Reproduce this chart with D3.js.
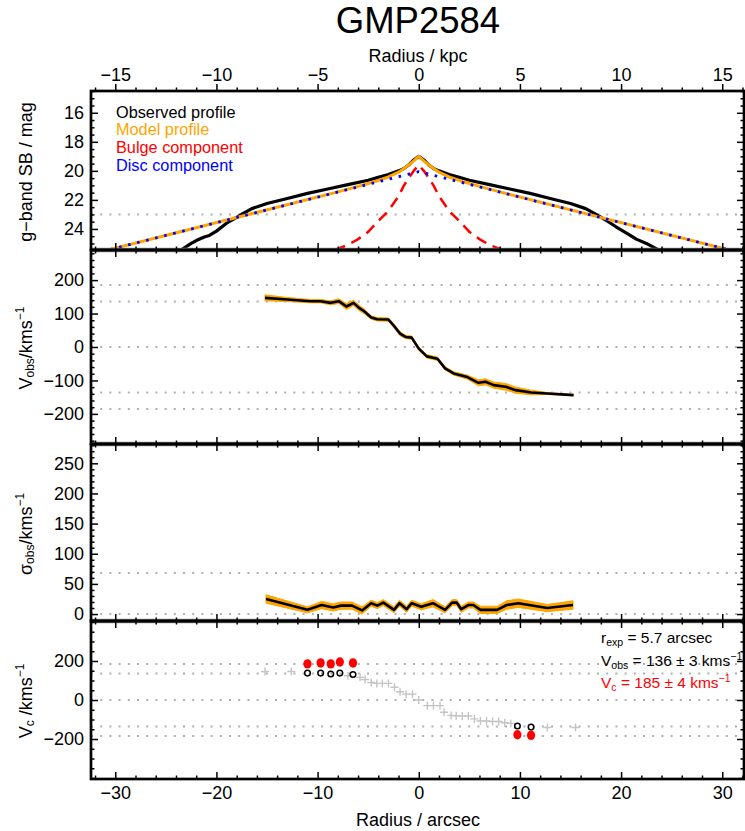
<!DOCTYPE html>
<html>
<head>
<meta charset="utf-8">
<title>GMP2584</title>
<script src="https://cdn.jsdelivr.net/npm/d3@7"></script>
<style>
  html, body { margin: 0; padding: 0; background: #fff; }
  svg { display: block; }
  text { font-family: "Liberation Sans", Arial, Helvetica, sans-serif; fill: #000; }
</style>
</head>
<body>
<svg id="chart" width="745" height="831"></svg>
<script>
// ---------------- data ----------------
const galaxyName = "GMP2584";
const kpcPerArcsec = 0.5;

// g-band surface-brightness profile (radius in arcsec, mag/arcsec^2)
const obsR   = [-23.5,-22.5,-22,-21.2,-20.7,-20,-19,-18,-17.4,-16.5,-15,-13,-11,-9,-7,-5,-4,-3,-2,-1.5,-1,-0.5,0,
                0.5,1,1.5,2,3,4,5,7,9,11,13,15,16.5,17.4,18.5,19.5,20.7,21.5,22.5,23.7];
const obsMag = [25.45,25.0,24.8,24.55,24.45,24.15,23.6,23.2,22.95,22.6,22.25,21.9,21.55,21.25,20.95,20.65,20.45,20.25,20.0,19.85,19.6,19.25,19.0,
                19.25,19.6,19.85,20.0,20.25,20.45,20.65,20.95,21.25,21.55,21.9,22.25,22.6,22.95,23.4,23.85,24.35,24.7,25.0,25.45];
const modelR   = [-32.3,-8,-6,-5,-4,-3,-2,-1.5,-1,-0.5,0,0.5,1,1.5,2,3,4,5,6,8,32.3];
const modelMag = [25.73,21.45,21.07,20.87,20.66,20.42,20.09,19.85,19.6,19.31,19.0,19.31,19.6,19.85,20.09,20.42,20.66,20.87,21.07,21.45,25.73];
const bulgeR   = [-8.3,-7,-6,-5,-4,-3,-2,-1.5,-1,-0.5,0,0.5,1,1.5,2,3,4,5,6,7,8.3];
const bulgeMag = [25.45,25.1,24.7,24.2,23.45,22.75,21.75,21.05,20.5,20.0,19.6,20.0,20.5,21.05,21.75,22.75,23.45,24.2,24.7,25.1,25.45];
const discR    = [-32.3,0,32.3];
const discMag  = [25.73,20.05,25.73];
const sbRef    = [23.0];

// observed rotation velocity (km/s) with uncertainty
const velR   = [-15.2,-13.0,-10.7,-9.7,-8.7,-7.9,-7.15,-6.45,-5.9,-5.4,-4.7,-4.1,-3.0,-2.5,-1.85,-1.3,-0.7,0.0,0.8,1.85,2.6,3.45,4.8,5.9,6.6,7.4,8.6,9.6,11.1,12.7,15.3];
const velV   = [147,142,137,137,132,137,121,132,117,107,88,83,82,65,40,30,28,-5,-28,-35,-64,-79,-90,-107,-104,-114,-119,-129,-136,-139,-144];
const velErr = [9,6,5,5,6,7,9,8,8,7,5,5,5,6,6,5,5,5,5,5,5,5,6,9,9,9,10,9,7,3,2];
const velRef = [185,136,0,-136,-185];

// observed velocity dispersion (km/s) with uncertainty
const sigR   = [-15.1,-11.0,-9.6,-8.45,-7.7,-6.6,-5.6,-4.7,-4.1,-3.5,-2.45,-1.9,-1.2,-0.7,0.25,1.4,2.6,3.3,3.75,4.2,4.9,5.4,6.1,7.75,8.7,9.85,12.7,15.25];
const sigV   = [25,7,15,11,14,14,6,18,14,19,7,18,8,18,12,18,7,19,19,8,15,15,7,7,15,18,10,15];
const sigErr = [7,5,6,6,6,6,6,5,5,5,5,5,5,5,5,6,5,5,5,5,5,5,6,6,7,7,6,7];
const sigRef = [68,0];

// circular-velocity panel
const ptsR  = [-15.2,-12.6,-7.0,-5.8,-5.3,-4.7,-4.15,-3.6,-3.0,-2.4,-1.85,-1.25,-0.62,0,0.85,1.45,2.1,2.5,3.2,3.7,4.3,4.9,5.5,6.1,6.7,7.3,7.9,8.5,9.1,12.7,15.5];
const ptsV  = [146,146,124,116,105,90,85,85,85,65,42,30,30,0,-29,-29,-29,-63,-79,-81,-82,-82,-97,-108,-108,-110,-110,-117,-120,-141,-141];
const sampR = [-11.0,-9.7,-8.7,-7.8,-6.5,9.75,11.1];
const vobsV = [138,138,133,138,131,-133,-139];
const vcV   = [185,190,185,195,190,-178,-181];
const vcRef = [185,136,0,-136,-185];

// tick values
const arcsecTicks = [-30,-20,-10,0,10,20,30];
const kpcTicks    = [-15,-10,-5,0,5,10,15];
const sbTicks     = [16,18,20,22,24];
const velTicks    = [-200,-100,0,100,200];
const sigTicks    = [0,50,100,150,200,250];
const vcTicks     = [-200,0,200];

const legendItems  = ["Observed profile","Model profile","Bulge component","Disc component"];
const legendColors = ["#000000","#FFA500","#FF0000","#0000FF"];

// ---------------- layout ----------------
const L = 91, R = 744;
const FONT = "Liberation Sans, Arial, Helvetica, sans-serif";
const svg = d3.select("#chart");

const arcsecDomain = [-32.4, 32.15];
const x = d3.scaleLinear().domain(arcsecDomain).range([L, R]);
const xKpc = d3.scaleLinear().domain(arcsecDomain.map(d => d * kpcPerArcsec)).range([L, R]);

const panels = [
  { top: 91,  bottom: 250, y: d3.scaleLinear().domain([25.45, 14.5]).range([250, 91]), ticks: sbTicks,  minor: 0.5, refs: sbRef },
  { top: 250, bottom: 444, y: d3.scaleLinear().domain([-290, 290]).range([444, 250]), ticks: velTicks, minor: 20,  refs: velRef },
  { top: 444, bottom: 621, y: d3.scaleLinear().domain([-11.5, 282]).range([621, 444]), ticks: sigTicks, minor: 10,  refs: sigRef },
  { top: 621, bottom: 779, y: d3.scaleLinear().domain([-405, 405]).range([779, 621]), ticks: vcTicks,  minor: 50,  refs: vcRef }
];

const defs = svg.append("defs");
panels.forEach((p, i) => {
  defs.append("clipPath").attr("id", "clip" + i)
    .append("rect").attr("x", L).attr("y", p.top).attr("width", R - L).attr("height", p.bottom - p.top);
});

// dotted reference lines
panels.forEach((p, i) => {
  svg.append("g").attr("clip-path", `url(#clip${i})`)
    .selectAll("line").data(p.refs).join("line")
    .attr("x1", L).attr("x2", R)
    .attr("y1", d => p.y(d)).attr("y2", d => p.y(d))
    .attr("stroke", "#b0b0b0").attr("stroke-width", 2)
    .attr("stroke-dasharray", "2,7.2");
});

const zip = (a, b) => a.map((v, k) => [v, b[k]]);

// ---- panel 1: surface brightness ----
{
  const p = panels[0];
  const g = svg.append("g").attr("clip-path", "url(#clip0)");
  const line = d3.line().x(d => x(d[0])).y(d => p.y(d[1]));
  g.append("path").attr("d", line(zip(obsR, obsMag)))
    .attr("fill", "none").attr("stroke", "#000").attr("stroke-width", 3.2).attr("stroke-linejoin", "round");
  g.append("path").attr("d", line(zip(modelR, modelMag)))
    .attr("fill", "none").attr("stroke", "#FFA500").attr("stroke-width", 3).attr("stroke-linejoin", "round");
  g.append("path").attr("d", line(zip(bulgeR, bulgeMag)))
    .attr("fill", "none").attr("stroke", "#FF0000").attr("stroke-width", 2.5).attr("stroke-dasharray", "11,7");
  g.append("path").attr("d", line(zip(discR, discMag)))
    .attr("fill", "none").attr("stroke", "#0000FF").attr("stroke-width", 2.8).attr("stroke-dasharray", "2.6,6.7");

  svg.append("g").selectAll("text").data(legendItems).join("text")
    .attr("x", 116).attr("y", (d, k) => 117.5 + k * 17.7)
    .attr("font-size", 16.3).style("fill", (d, k) => legendColors[k])
    .text(d => d);
}

// ---- panel 2 / 3: kinematic profiles with error bands ----
function bandPlot(p, i, rs, vs, es) {
  const g = svg.append("g").attr("clip-path", `url(#clip${i})`);
  const rows = rs.map((r, k) => ({ r, v: vs[k], e: es[k] }));
  const area = d3.area().x(d => x(d.r)).y0(d => p.y(d.v - d.e)).y1(d => p.y(d.v + d.e));
  g.append("path").attr("d", area(rows)).attr("fill", "#FFA500")
    .attr("stroke", "#FFA500").attr("stroke-width", 1).attr("stroke-linejoin", "round");
  const line = d3.line().x(d => x(d.r)).y(d => p.y(d.v));
  g.append("path").attr("d", line(rows)).attr("fill", "none")
    .attr("stroke", "#000").attr("stroke-width", 2.6).attr("stroke-linejoin", "round");
}
bandPlot(panels[1], 1, velR, velV, velErr);
bandPlot(panels[2], 2, sigR, sigV, sigErr);

// ---- panel 4: circular velocity ----
{
  const p = panels[3];
  const g = svg.append("g").attr("clip-path", "url(#clip3)");
  g.selectAll("path.pt").data(zip(ptsR, ptsV)).join("path").attr("class", "pt")
    .attr("transform", d => `translate(${x(d[0])},${p.y(d[1])})`)
    .attr("d", "M-4,0H4M0,-4V4").attr("stroke", "#c4c4c4").attr("stroke-width", 1.4).attr("fill", "none");
  g.selectAll("circle.vo").data(zip(sampR, vobsV)).join("circle").attr("class", "vo")
    .attr("cx", d => x(d[0])).attr("cy", d => p.y(d[1])).attr("r", 2.8)
    .attr("fill", "none").attr("stroke", "#000").attr("stroke-width", 1.5);
  g.selectAll("ellipse.vc").data(zip(sampR, vcV)).join("ellipse").attr("class", "vc")
    .attr("cx", d => x(d[0])).attr("cy", d => p.y(d[1])).attr("rx", 4.1).attr("ry", 4.7)
    .attr("fill", "#FF0000");

  const notes = [
    { y: 643, color: "#000", parts: [["r", 0, 15.5], ["exp", 3, 10.5], [" = 5.7 arcsec", -3, 15.5]] },
    { y: 666, color: "#000", parts: [["V", 0, 15.5], ["obs", 3, 10.5], [" = 136 \u00b1 3 kms", -3, 15.5], ["\u22121", -6, 10.5]] },
    { y: 688, color: "#FF0000", parts: [["V", 0, 15.5], ["c", 3, 10.5], [" = 185 \u00b1 4 kms", -3, 15.5], ["\u22121", -6, 10.5]] }
  ];
  notes.forEach(n => {
    const t = svg.append("text").attr("x", 601).attr("y", n.y).style("fill", n.color);
    n.parts.forEach(([s, dy, fs]) => t.append("tspan").attr("dy", dy).attr("font-size", fs).text(s));
  });
}

// ---- frames ----
panels.forEach((p, i) => {
  if (i > 0) {
    svg.append("line").attr("x1", L).attr("x2", R).attr("y1", p.top).attr("y2", p.top)
      .attr("stroke", "#8a8a8a").attr("stroke-width", 4.6);
  }
});
panels.forEach(p => {
  svg.append("rect").attr("x", L).attr("y", p.top).attr("width", R - L).attr("height", p.bottom - p.top)
    .attr("fill", "none").attr("stroke", "#000").attr("stroke-width", 2.7);
});

// ---- axes ----
const fmt = d3.format("d");
function styleAxis(g, fs) {
  g.attr("font-family", FONT).attr("font-size", fs);
  g.select(".domain").remove();
  g.selectAll(".tick line").attr("stroke", "#000").attr("stroke-width", 1.5);
  g.selectAll(".tick text").style("fill", "#000");
}
function minorValues(lo, hi, step, majors) {
  const out = [];
  for (let v = Math.ceil(lo / step) * step; v <= hi + 1e-9; v += step) {
    const r = Math.round(v / step) * step;
    if (!majors.some(m => Math.abs(m - r) < step * 1e-3)) out.push(r);
  }
  return out;
}
const arcsecMinor = minorValues(arcsecDomain[0], arcsecDomain[1], 2, arcsecTicks);
const kpcMinor = minorValues(arcsecDomain[0] * kpcPerArcsec, arcsecDomain[1] * kpcPerArcsec, 1, kpcTicks);

panels.forEach((p, i) => {
  // bottom edge, ticks pointing inward
  svg.append("g").attr("transform", `translate(0,${p.bottom})`)
    .call(d3.axisBottom(x).tickValues(arcsecTicks).tickSize(-7).tickPadding(7).tickFormat(i === 3 ? fmt : ""))
    .call(g => styleAxis(g, 18));
  svg.append("g").attr("transform", `translate(0,${p.bottom})`)
    .call(d3.axisBottom(x).tickValues(arcsecMinor).tickSize(-3.5).tickFormat(""))
    .call(g => styleAxis(g, 18));
  if (i > 0) {
    svg.append("g").attr("transform", `translate(0,${p.top})`)
      .call(d3.axisTop(x).tickValues(arcsecTicks).tickSize(-7).tickFormat(""))
      .call(g => styleAxis(g, 18));
    svg.append("g").attr("transform", `translate(0,${p.top})`)
      .call(d3.axisTop(x).tickValues(arcsecMinor).tickSize(-3.5).tickFormat(""))
      .call(g => styleAxis(g, 18));
  }
  const [lo, hi] = d3.extent(p.y.domain());
  const ym = minorValues(lo, hi, p.minor, p.ticks);
  svg.append("g").attr("transform", `translate(${L},0)`)
    .call(d3.axisLeft(p.y).tickValues(p.ticks).tickSize(-7).tickPadding(7).tickFormat(fmt))
    .call(g => styleAxis(g, 18));
  svg.append("g").attr("transform", `translate(${L},0)`)
    .call(d3.axisLeft(p.y).tickValues(ym).tickSize(-3.5).tickFormat(""))
    .call(g => styleAxis(g, 18));
  svg.append("g").attr("transform", `translate(${R},0)`)
    .call(d3.axisRight(p.y).tickValues(p.ticks).tickSize(-7).tickFormat(""))
    .call(g => styleAxis(g, 18));
  svg.append("g").attr("transform", `translate(${R},0)`)
    .call(d3.axisRight(p.y).tickValues(ym).tickSize(-3.5).tickFormat(""))
    .call(g => styleAxis(g, 18));
});

// top kpc axis, ticks pointing outward
svg.append("g").attr("transform", `translate(0,${panels[0].top})`)
  .call(d3.axisTop(xKpc).tickValues(kpcTicks).tickSize(7).tickPadding(3).tickFormat(fmt))
  .call(g => styleAxis(g, 18));
svg.append("g").attr("transform", `translate(0,${panels[0].top})`)
  .call(d3.axisTop(xKpc).tickValues(kpcMinor).tickSize(3.5).tickFormat(""))
  .call(g => styleAxis(g, 18));

// ---- titles ----
svg.append("text").attr("x", 418).attr("y", 33).attr("text-anchor", "middle")
  .attr("font-size", 36.5).text(galaxyName);
svg.append("text").attr("x", 418).attr("y", 62).attr("text-anchor", "middle")
  .attr("font-size", 18).text("Radius / kpc");
svg.append("text").attr("x", 418).attr("y", 826).attr("text-anchor", "middle")
  .attr("font-size", 18).text("Radius / arcsec");

function yTitle(cy, parts) {
  const t = svg.append("text").attr("text-anchor", "middle")
    .attr("transform", `translate(32,${cy}) rotate(-90)`);
  parts.forEach(([s, dy, fs]) => t.append("tspan").attr("dy", dy).attr("font-size", fs).text(s));
}
yTitle(172, [["g\u2212band SB / mag", 0, 18]]);
yTitle(348, [["V", 0, 18], ["obs", 2, 12], ["/kms", -2, 18], ["\u22121", -8, 12]]);
yTitle(534, [["\u03c3", 0, 18], ["obs", 2, 12], ["/kms", -2, 18], ["\u22121", -8, 12]]);
yTitle(701, [["V", 0, 18], ["c", 2, 12], [" /kms", -2, 18], ["\u22121", -8, 12]]);
</script>
</body>
</html>
